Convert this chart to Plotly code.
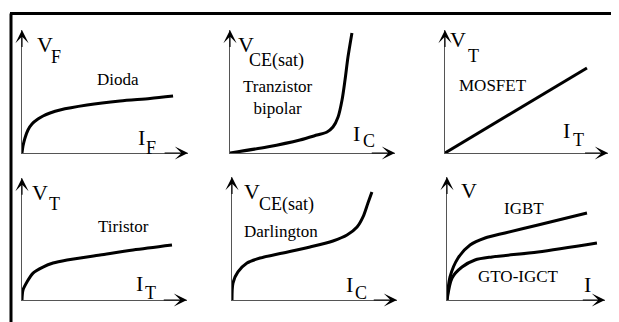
import plotly.graph_objects as go

W, H = 619, 322
PAD = 8  # default page margin of the html body
FW, FH = W - PAD, H - PAD

# schematic curves, arbitrary units (0..10 on both axes of every panel)
dioda_i = [0, 0.06, 0.18, 0.36, 0.60, 0.96, 1.27, 1.69, 2.29, 3.92, 5.90, 7.71, 9.10]
dioda_v = [0, 0.57, 1.22, 1.87, 2.36, 2.76, 3.01, 3.25, 3.50, 3.90, 4.23, 4.43, 4.63]

bjt_i = [0, 2.24, 4.24, 5.27, 5.88, 6.24, 6.55, 6.79, 6.97, 7.15, 7.39]
bjt_v = [0, 0.49, 1.06, 1.46, 1.71, 2.11, 2.93, 4.31, 5.93, 7.80, 9.76]

mosfet_i = [0, 8.71]
mosfet_v = [0, 6.91]

tiristor_i = [0, 0.06, 0.30, 0.67, 1.27, 1.88, 2.73, 4.73, 6.73, 9.09]
tiristor_v = [0, 0.82, 1.48, 2.21, 2.70, 3.03, 3.28, 3.69, 4.10, 4.51]

darl_i = [0, 0.06, 0.36, 0.91, 1.70, 3.09, 4.73, 6.12, 6.97, 7.58, 7.94, 8.24, 8.48]
darl_v = [0, 1.38, 2.28, 3.01, 3.41, 3.82, 4.31, 4.80, 5.28, 5.93, 6.75, 7.89, 8.78]

igbt_i = [0, 0.19, 0.70, 1.46, 2.41, 3.67, 5.76, 8.86]
igbt_v = [0, 1.87, 3.41, 4.47, 5.04, 5.45, 6.10, 7.07]

gto_i = [0, 0.32, 0.95, 1.77, 2.85, 5.76, 9.49]
gto_v = [0, 1.79, 2.68, 3.25, 3.50, 3.90, 4.63]

names = ['Dioda', 'Tranzistor<br>bipolar', 'MOSFET', 'Tiristor', 'Darlington', 'IGBT', 'GTO-IGCT']
y_sym = [('V', 'F'), ('V', 'CE(sat)'), ('V', 'T'), ('V', 'T'), ('V', 'CE(sat)'), ('V', '')]
x_sym = [('I', 'F'), ('I', 'C'), ('I', 'T'), ('I', 'T'), ('I', 'C'), ('I', '')]

curves = [(0, dioda_i, dioda_v), (1, bjt_i, bjt_v), (2, mosfet_i, mosfet_v),
          (3, tiristor_i, tiristor_v), (4, darl_i, darl_v),
          (5, igbt_i, igbt_v), (5, gto_i, gto_v)]

# panel boxes in window pixels: origin x, x-arrow tip, origin y, y-arrow tip
boxes = [(22, 188, 153, 30), (230, 395, 153, 30), (445, 608, 153, 30),
         (22, 187, 300, 178), (232, 397, 300, 177), (447, 605, 300, 177)]


def px(x):
    return (x - PAD) / FW


def py(y):
    return 1 - (y - PAD) / FH


FONT = 'Liberation Serif, Times New Roman, Times, serif'

fig = go.Figure()
annotations = []

for k, (x0, x1, y0, y1) in enumerate(boxes):
    n = '' if k == 0 else str(k + 1)
    common = dict(range=[0, 10], showline=True, linecolor='#555', linewidth=1,
                  showgrid=False, zeroline=False, showticklabels=False, ticks='',
                  fixedrange=True, layer='below traces')
    fig.layout['xaxis' + n] = dict(domain=[px(x0), px(x1)], anchor='y' + n, **common)
    fig.layout['yaxis' + n] = dict(domain=[py(y0), py(y1)], anchor='x' + n, **common)
    # arrow heads at the end of both axes
    for (hx, hy, tx, ty) in [(10, 0, 8.5, 0), (0, 10, 0, 8.5)]:
        annotations.append(dict(x=hx, y=hy, ax=tx, ay=ty, xref='x' + n, yref='y' + n,
                                axref='x' + n, ayref='y' + n, text='', showarrow=True,
                                arrowhead=3, arrowsize=2.0, arrowwidth=1.1,
                                arrowcolor='black', standoff=0))

for k, xs, ys in curves:
    n = '' if k == 0 else str(k + 1)
    fig.add_trace(go.Scatter(x=xs, y=ys, mode='lines', xaxis='x' + n, yaxis='y' + n,
                             line=dict(color='black', width=3, shape='spline', smoothing=0.8),
                             hoverinfo='skip'))

# axis symbols: (left, cap-centre) for main letter and subscript, pixels
ysym_pos = [((35, 45), (49, 57)), ((236, 45), (247, 61)), ((448, 40), (466, 56)),
            ((30, 192), (47, 204)), ((242, 191), (257, 204)), ((459, 190), None)]
xsym_pos = [((136, 137), (144, 148)), ((351, 133), (361, 141)), ((561, 130), (571, 140)),
            ((134, 283), (143, 293)), ((344, 284), (353, 293)), ((582, 284), None)]

for syms, poss in [(y_sym, ysym_pos), (x_sym, xsym_pos)]:
    for (main, sub), (mp, sp) in zip(syms, poss):
        annotations.append(dict(x=px(mp[0]), y=py(mp[1]), xref='paper', yref='paper',
                                text=main, showarrow=False, xanchor='left', yanchor='middle',
                                font=dict(family=FONT, size=22, color='black')))
        if sub:
            annotations.append(dict(x=px(sp[0]), y=py(sp[1]), xref='paper', yref='paper',
                                    text=sub, showarrow=False, xanchor='left', yanchor='middle',
                                    font=dict(family=FONT, size=18, color='black')))

label_pos = [(118, 80), (278, 98), (493, 86), (123, 226), (281, 232), (524, 208), (518, 276)]
for name, (lx, ly) in zip(names, label_pos):
    annotations.append(dict(x=px(lx), y=py(ly), xref='paper', yref='paper', text=name,
                            showarrow=False, xanchor='center', yanchor='middle',
                            font=dict(family=FONT, size=17, color='black')))

# frame: top and left border
shapes = [
    dict(type='line', xref='paper', yref='paper', x0=px(10), x1=1, y0=py(13.5), y1=py(13.5),
         line=dict(color='black', width=3)),
    dict(type='line', xref='paper', yref='paper', x0=px(11), x1=px(11), y0=py(13.5), y1=0,
         line=dict(color='black', width=3)),
]

fig.update_layout(width=FW, height=FH, margin=dict(l=0, r=0, t=0, b=0),
                  paper_bgcolor='white', plot_bgcolor='white', showlegend=False,
                  font=dict(family=FONT),
                  annotations=annotations, shapes=shapes)

fig.write_html('out.html')
